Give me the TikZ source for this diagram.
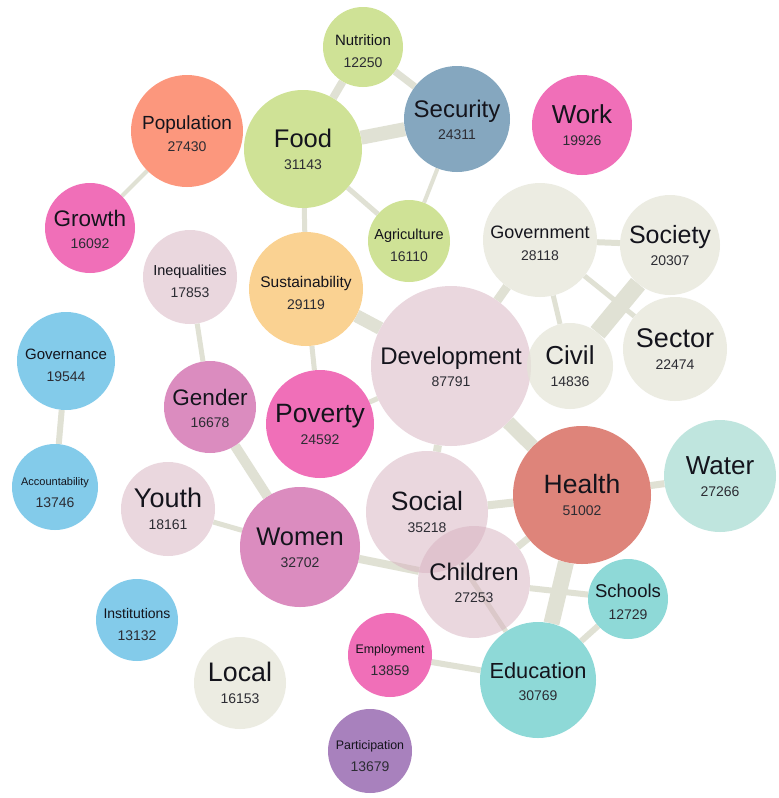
\documentclass[tikz,border=0pt]{standalone}
\usepackage{fontspec}
\setmainfont{Liberation Sans}
\usetikzlibrary{backgrounds}
\definecolor{cgreen}{RGB}{188,215,106}
\definecolor{csec}{RGB}{82,131,164}
\definecolor{cpink}{RGB}{234,51,155}
\definecolor{cpop}{RGB}{252,108,71}
\definecolor{cbeige}{RGB}{228,228,215}
\definecolor{clpink}{RGB}{215,177,191}
\definecolor{csus}{RGB}{249,192,101}
\definecolor{cblue}{RGB}{79,181,226}
\definecolor{corchid}{RGB}{204,92,164}
\definecolor{cwater}{RGB}{165,218,208}
\definecolor{chealth}{RGB}{208,81,66}
\definecolor{cteal}{RGB}{95,201,199}
\definecolor{cpurple}{RGB}{132,76,161}
\definecolor{cedge}{RGB}{224,225,212}
\definecolor{ctext}{RGB}{20,20,28}
\begin{document}
\begin{tikzpicture}[x=1pt,y=-1pt,
  bubble/.style={circle,inner sep=0pt,draw=none},
  lbl/.style={inner sep=0pt,text=ctext},
  cnt/.style={inner sep=0pt,text=ctext!90,font=\fontsize{14}{14}\selectfont},
  edge/.style={draw=cedge}]
\begin{scope}[on background layer]
\fill[white] (0,0) rectangle (779,798);
\end{scope}
\useasboundingbox (0,0) rectangle (779,798);
\foreach \n/\x/\y/\r/\c/\o in {
 nutrition/363/47/40/cgreen/0.7,
 security/457/119/53/csec/0.7,
 work/582/125/50/cpink/0.7,
 population/187/131/56/cpop/0.7,
 food/303/149/59/cgreen/0.7,
 growth/90/228/45/cpink/0.7,
 agriculture/409/241/41/cgreen/0.7,
 government/540/240/57/cbeige/0.7,
 society/670/245/50/cbeige/0.7,
 inequalities/190/277/47/clpink/0.5,
 sustainability/306/289/57/csus/0.7,
 sector/675/349/52/cbeige/0.7,
 development/451/366/80/clpink/0.5,
 civil/570/366/43/cbeige/0.7,
 governance/66/361/49/cblue/0.7,
 gender/210/407/46/corchid/0.7,
 poverty/320/424/54/cpink/0.7,
 water/720/476/56/cwater/0.7,
 health/582/495/69/chealth/0.7,
 accountability/55/487/43/cblue/0.7,
 youth/168/509/47/clpink/0.5,
 social/427/512/61/clpink/0.5,
 women/300/547/60/corchid/0.7,
 children/474/582/56/clpink/0.5,
 schools/628/599/40/cteal/0.7,
 institutions/137/620/41/cblue/0.7,
 employment/390/655/42/cpink/0.7,
 education/538/680/58/cteal/0.7,
 local/240/683/46/cbeige/0.7,
 participation/370/751/42/cpurple/0.7}
 {\node[bubble,fill=\c,fill opacity=\o,minimum size={2*\r pt}] (\n) at (\x,\y) {};}
\foreach \n/\t/\s/\k in {
 nutrition/Nutrition/15/12250,
 security/Security/24/24311,
 work/Work/26/19926,
 population/Population/19/27430,
 food/Food/25.5/31143,
 growth/Growth/22.5/16092,
 agriculture/Agriculture/14.5/16110,
 government/Government/18/28118,
 society/Society/25/20307,
 inequalities/Inequalities/14.5/17853,
 sustainability/Sustainability/15.5/29119,
 sector/Sector/27/22474,
 development/Development/24/87791,
 civil/Civil/26/14836,
 governance/Governance/15/19544,
 gender/Gender/22.5/16678,
 poverty/Poverty/26.5/24592,
 water/Water/26/27266,
 health/Health/26.5/51002,
 accountability/Accountability/11/13746,
 youth/Youth/27/18161,
 social/Social/26.5/35218,
 women/Women/25.5/32702,
 children/Children/24/27253,
 schools/Schools/18.5/12729,
 institutions/Institutions/14/13132,
 employment/Employment/12.4/13859,
 education/Education/21.8/30769,
 local/Local/26.8/16153,
 participation/Participation/12.4/13679}
 {\node[lbl,anchor=base,font=\fontsize{\s}{\s}\selectfont] (\n-l) at ([yshift=2pt]\n.center) {\t};
  \node[cnt,anchor=north] (\n-n) at ([yshift=-11pt]\n.center) {\k};}
\begin{scope}[on background layer]
\foreach \a/\b/\w in {
 nutrition/food/8, nutrition/security/7, food/security/14,
 security/agriculture/4, food/agriculture/5, food/sustainability/5,
 population/growth/4, sustainability/development/13, sustainability/poverty/5,
 inequalities/gender/5, government/development/9, government/society/6,
 government/civil/5, government/sector/5, society/civil/18,
 development/poverty/5, development/health/14, development/social/8,
 health/water/7, health/social/8, health/children/7, health/education/16,
 children/schools/6, social/education/5, education/schools/6,
 employment/education/6, women/children/8, women/gender/10,
 women/youth/5, governance/accountability/6}
 {\draw[edge,line width=\w pt] (\a) -- (\b);}
\end{scope}
\end{tikzpicture}
\end{document}
